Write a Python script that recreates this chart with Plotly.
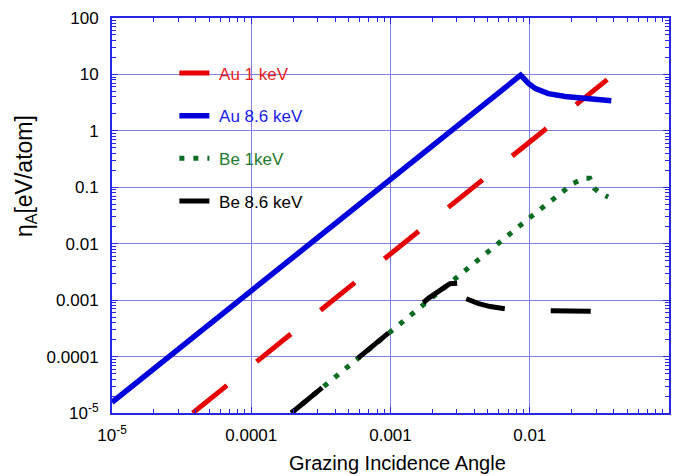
import plotly.graph_objects as go

# ---- data (log-log) ----
au1_x = [3.8e-5, 1e-4, 3e-4, 1e-3, 3e-3, 0.01, 0.02, 0.036]
au1_y = [1e-5, 6.8e-5, 6.0e-4, 6.5e-3, 0.057, 0.62, 2.5, 8.1]

au86_x = [1e-5, 3e-5, 1e-4, 3e-4, 1e-3, 3e-3, 6e-3, 0.0086, 0.0092, 0.0098, 0.011, 0.0122, 0.0136, 0.018, 0.025, 0.031, 0.0385]
au86_y = [1.55e-5, 1.35e-4, 1.44e-3, 0.0126, 0.135, 1.17, 4.6, 9.7, 8.2, 6.9, 5.6, 5.0, 4.57, 4.05, 3.73, 3.55, 3.43]

be1_x = [1.94e-4, 5e-4, 1e-3, 3e-3, 0.01, 0.0206, 0.0245, 0.027, 0.029, 0.032, 0.0366]
be1_y = [1e-5, 6.8e-5, 2.8e-4, 2.6e-3, 0.029, 0.118, 0.145, 0.145, 0.096, 0.079, 0.067]

# None marks the jump between the rising branch and the falling branch
be86_x = [1.94e-4, 5e-4, 1e-3, 1.89e-3, 2.67e-3, 0.0031, None, 0.0035, 0.0043, 0.0052, 0.0073, 0.011, 0.023, 0.0385]
be86_y = [1e-5, 6.8e-5, 2.8e-4, 1.1e-3, 1.95e-3, 2.0e-3, None, 1.06e-3, 8.7e-4, 7.7e-4, 6.8e-4, 6.5e-4, 6.4e-4, 6.3e-4]

x_tickvals = [1e-5, 1e-4, 1e-3, 1e-2, 1e-1]
x_ticktext = ["10<sup>-5</sup>", "0.0001", "0.001", "0.01", "0.1"]
y_tickvals = [1e-5, 1e-4, 1e-3, 1e-2, 1e-1, 1, 10, 100]
y_ticktext = ["10<sup>-5</sup>", "0.0001", "0.001", "0.01", "0.1", "1", "10", "100"]

names = ["Au 1 keV", "Au 8.6 keV", "Be 1keV", "Be 8.6 keV"]
colors = ["#e60000", "#0000dd", "#0a6b22", "#000000"]
text_colors = ["#ee1c1c", "#1a1aee", "#1d7a2e", "#000000"]
dashes = ["44px,38px", "solid", "5px,9px", "40px,46px"]
widths = [5, 5.5, 5, 5]

FONT = "Liberation Sans, Arial, sans-serif"

fig = go.Figure()
series = [(au1_x, au1_y), (au86_x, au86_y), (be1_x, be1_y), (be86_x, be86_y)]
for i, (xs, ys) in enumerate(series):
    fig.add_trace(go.Scatter(
        x=xs, y=ys, mode="lines", connectgaps=False,
        name=f"<span style='color:{text_colors[i]}'>&nbsp;{names[i]}</span>",
        legendgroup=f"g{i}",
        line=dict(color=colors[i], width=widths[i], dash=dashes[i]),
    ))

def minor_vals(lo, hi):
    out = []
    for e in range(lo, hi):
        for m in range(2, 10):
            out.append(m * 10.0 ** e)
    return out

axis_color = "#2626e6"
grid_color = "#8080e0"

fig.update_layout(
    width=680, height=476,
    margin=dict(l=112, r=9, t=16, b=63),
    paper_bgcolor="white", plot_bgcolor="white",
    font=dict(family=FONT, size=17, color="black"),
    showlegend=True,
    legend=dict(
        x=0.112, y=0.905, xanchor="left", yanchor="top",
        bgcolor="rgba(0,0,0,0)", borderwidth=0,
        font=dict(family=FONT, size=17),
        tracegroupgap=17.5, itemwidth=30,
    ),
    xaxis=dict(
        type="log", range=[-5, -1],
        tickmode="array", tickvals=x_tickvals, ticktext=x_ticktext,
        ticks="inside", ticklen=6, tickcolor=axis_color, tickwidth=1,
        showline=True, linecolor=axis_color, linewidth=2, mirror="ticks",
        showgrid=True, gridcolor=grid_color, gridwidth=1,
        zeroline=False,
        minor=dict(tickmode="array", tickvals=minor_vals(-5, -1), ticks="inside",
                   ticklen=4, tickcolor=axis_color, showgrid=False),
        tickfont=dict(family=FONT, size=17),
        ticklabelstandoff=6,
    ),
    yaxis=dict(
        type="log", range=[-5, 2],
        tickmode="array", tickvals=y_tickvals, ticktext=y_ticktext,
        ticks="inside", ticklen=6, tickcolor=axis_color, tickwidth=1,
        showline=True, linecolor=axis_color, linewidth=2, mirror="ticks",
        showgrid=True, gridcolor=grid_color, gridwidth=1,
        zeroline=False,
        minor=dict(tickmode="array", tickvals=minor_vals(-5, 2), ticks="inside",
                   ticklen=4, tickcolor=axis_color, showgrid=False),
        tickfont=dict(family=FONT, size=17),
        ticklabelstandoff=8,
    ),
)

fig.add_annotation(
    text="η<sub>A</sub>[eV/atom]", xref="paper", yref="paper",
    x=-0.156, y=0.60, xanchor="center", yanchor="middle",
    textangle=-90, showarrow=False, font=dict(family=FONT, size=23, color="black"),
)
fig.add_annotation(
    text="Grazing Incidence Angle", xref="paper", yref="paper",
    x=0.512, y=-0.126, xanchor="center", yanchor="middle",
    showarrow=False, font=dict(family=FONT, size=20, color="black"),
)

fig.write_html("out.html")
